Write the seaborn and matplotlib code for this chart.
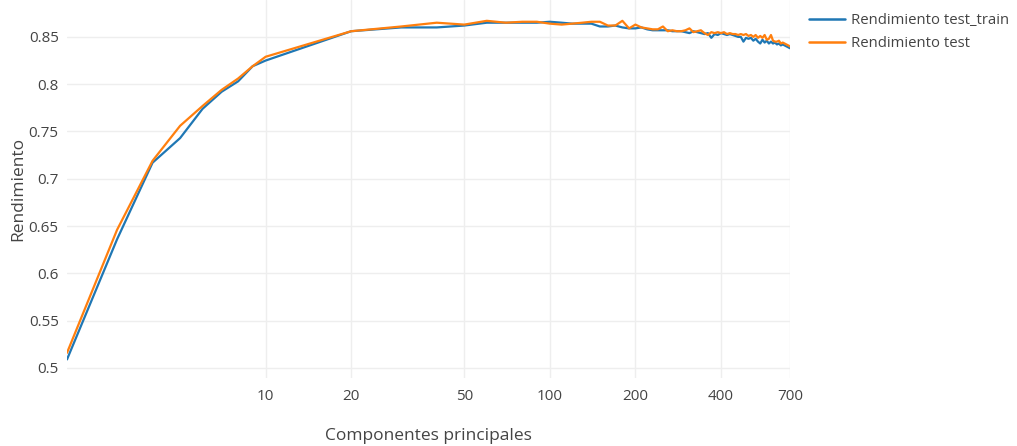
import numpy as np
import pandas as pd
import matplotlib
matplotlib.use("Agg")
import matplotlib.pyplot as plt
from matplotlib.ticker import FixedLocator, NullLocator
import seaborn as sns

components = [2, 3, 4, 5, 6, 7, 8, 9, 10, 20, 30, 40, 50, 60, 70, 80, 90, 100,
              110, 120, 130, 140, 150, 160, 170, 180, 190, 200, 210, 220, 230, 240,
              250, 260, 270, 280, 290, 300, 310, 320, 330, 340, 350, 360, 370, 380,
              390, 400, 410, 420, 430, 440, 450, 460, 470, 480, 490, 500, 510, 520,
              530, 540, 550, 560, 570, 580, 590, 600, 610, 620, 630, 640, 650, 660,
              670, 680, 690, 700]

test_train = [0.509, 0.636, 0.717, 0.743, 0.774, 0.792, 0.803, 0.819, 0.825, 0.856,
              0.860, 0.860, 0.862, 0.865, 0.865, 0.865, 0.865, 0.866,
              0.865, 0.864, 0.864, 0.864, 0.861, 0.861, 0.862, 0.860, 0.859, 0.859,
              0.860, 0.858, 0.857, 0.857, 0.857, 0.857, 0.856, 0.856, 0.856, 0.855,
              0.854, 0.856, 0.855, 0.854, 0.853, 0.854, 0.849, 0.853, 0.852, 0.854,
              0.853, 0.852, 0.853, 0.852, 0.851, 0.850, 0.850, 0.845, 0.849, 0.848,
              0.849, 0.846, 0.848, 0.845, 0.843, 0.847, 0.844, 0.846, 0.843, 0.845,
              0.843, 0.844, 0.842, 0.843, 0.841, 0.842, 0.841, 0.840, 0.839, 0.838]

test = [0.516, 0.646, 0.719, 0.756, 0.777, 0.794, 0.806, 0.819, 0.829, 0.856,
        0.861, 0.865, 0.863, 0.867, 0.865, 0.866, 0.866, 0.864,
        0.863, 0.864, 0.865, 0.866, 0.866, 0.862, 0.862, 0.867, 0.859, 0.863,
        0.860, 0.859, 0.858, 0.858, 0.861, 0.856, 0.857, 0.856, 0.856, 0.857,
        0.859, 0.855, 0.856, 0.857, 0.854, 0.852, 0.855, 0.854, 0.855, 0.854,
        0.855, 0.853, 0.854, 0.853, 0.853, 0.852, 0.853, 0.852, 0.853, 0.851,
        0.852, 0.850, 0.852, 0.849, 0.851, 0.849, 0.852, 0.847, 0.848, 0.852,
        0.846, 0.845, 0.845, 0.846, 0.843, 0.844, 0.843, 0.842, 0.841, 0.840]

series_names = ["Rendimiento test_train", "Rendimiento test"]
x_ticks = [10, 20, 50, 100, 200, 400, 700]
y_ticks = [0.5, 0.55, 0.6, 0.65, 0.7, 0.75, 0.8, 0.85]
y_tick_labels = ["0.5", "0.55", "0.6", "0.65", "0.7", "0.75", "0.8", "0.85"]

df = pd.DataFrame({
    "Componentes principales": components * 2,
    "Rendimiento": test_train + test,
    "serie": [series_names[0]] * len(components) + [series_names[1]] * len(components),
})

sns.set_theme(style="white")
plt.rcParams["font.family"] = ["Open Sans", "DejaVu Sans"]

fig = plt.figure(figsize=(10.17, 4.46), dpi=100)
ax = fig.add_axes([67 / 1017, 1 - 378 / 446, (790 - 67) / 1017, 378 / 446])

palette = {series_names[0]: "#1f77b4", series_names[1]: "#ff7f0e"}
sns.lineplot(data=df, x="Componentes principales", y="Rendimiento", hue="serie",
             palette=palette, estimator=None, sort=False, linewidth=1.6, ax=ax,
             legend=False)

ax.set_xscale("log")
ax.set_xlim(2, 700)
ax.set_ylim(0.4894, 0.889)
ax.xaxis.set_major_locator(FixedLocator(x_ticks))
ax.xaxis.set_minor_locator(NullLocator())
ax.set_xticks(x_ticks)
ax.set_xticklabels([str(t) for t in x_ticks])
ax.set_yticks(y_ticks)
ax.set_yticklabels(y_tick_labels)
ax.grid(True, color="#eeeeee", linewidth=1)
ax.set_axisbelow(True)
for s in ax.spines.values():
    s.set_visible(False)
ax.tick_params(axis="both", length=0, labelsize=11, colors="#444444")
ax.tick_params(axis="x", pad=8)
ax.tick_params(axis="y", pad=6)
ax.set_xlabel("Componentes principales", fontsize=12.5, color="#444444", va="center")
ax.set_ylabel("Rendimiento", fontsize=12.5, color="#444444", va="center")
ax.xaxis.set_label_coords(0.5, -58 / 378)
ax.yaxis.set_label_coords((18 - 67) / 723, 0.5)

# legend
handles = [plt.Line2D([0], [0], color=palette[n], linewidth=1.8) for n in series_names]
fig.legend(handles, series_names, loc="upper left", bbox_to_anchor=(809 / 1017, 1 - 13 / 446),
           frameon=False, fontsize=10.7, handlelength=2.4, handletextpad=0.45,
           labelspacing=0.55, labelcolor="#444444", borderaxespad=0, borderpad=0)

fig.savefig("out.png", dpi=100)
